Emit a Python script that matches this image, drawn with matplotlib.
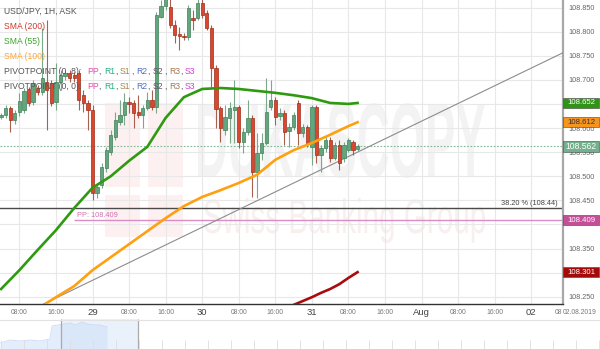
import matplotlib
matplotlib.use("Agg")
import numpy as np
import matplotlib.pyplot as plt
from matplotlib.patches import Rectangle, PathPatch
from matplotlib.textpath import TextPath
from matplotlib.font_manager import FontProperties
from matplotlib.transforms import Affine2D, blended_transform_factory

plt.rcParams['font.family'] = ['Liberation Sans', 'DejaVu Sans']

# hourly candles, hour 0 = 29 Jul 00:00
hours = list(range(-20, 59))
opens = [108.623, 108.627, 108.642, 108.617, 108.633, 108.637, 108.681, 108.654, 108.683, 108.675,
         108.696, 108.693, 108.654, 108.696, 108.708, 108.714, 108.710, 108.714, 108.668, 108.652,
         108.637, 108.465, 108.482, 108.517, 108.550, 108.581, 108.613, 108.627, 108.654, 108.652,
         108.633, 108.627, 108.642, 108.658, 108.644, 108.830, 108.853, 108.851, 108.814, 108.795,
         108.791, 108.789, 108.828, 108.828, 108.859, 108.839, 108.808, 108.725, 108.642, 108.596,
         108.621, 108.637, 108.644, 108.571, 108.592, 108.621, 108.509, 108.548, 108.569, 108.644,
         108.658, 108.625, 108.631, 108.594, 108.602, 108.652, 108.590, 108.602, 108.561, 108.644,
         108.544, 108.559, 108.575, 108.538, 108.565, 108.538, 108.554, 108.571, 108.556]
highs = [108.631, 108.648, 108.646, 108.637, 108.673, 108.683, 108.685, 108.700, 108.689, 108.808,
         108.824, 108.700, 108.735, 108.720, 108.720, 108.720, 108.716, 108.720, 108.679, 108.658,
         108.648, 108.484, 108.527, 108.561, 108.596, 108.633, 108.658, 108.673, 108.664, 108.658,
         108.668, 108.648, 108.675, 108.679, 108.841, 108.866, 108.897, 108.870, 108.824, 108.810,
         108.797, 108.855, 108.845, 108.876, 108.876, 108.845, 108.814, 108.731, 108.646, 108.648,
         108.654, 108.700, 108.648, 108.600, 108.658, 108.627, 108.590, 108.590, 108.704, 108.700,
         108.664, 108.642, 108.637, 108.610, 108.633, 108.658, 108.608, 108.606, 108.648, 108.648,
         108.565, 108.581, 108.581, 108.571, 108.575, 108.571, 108.579, 108.575, 108.567]
lows = [108.619, 108.621, 108.592, 108.608, 108.625, 108.631, 108.646, 108.648, 108.668, 108.668,
        108.596, 108.646, 108.637, 108.679, 108.700, 108.696, 108.696, 108.637, 108.633, 108.596,
        108.451, 108.455, 108.476, 108.509, 108.544, 108.575, 108.606, 108.606, 108.631, 108.600,
        108.621, 108.600, 108.637, 108.637, 108.631, 108.828, 108.845, 108.808, 108.776, 108.762,
        108.783, 108.783, 108.803, 108.824, 108.828, 108.803, 108.685, 108.600, 108.571, 108.586,
        108.569, 108.569, 108.559, 108.548, 108.586, 108.457, 108.455, 108.534, 108.565, 108.637,
        108.606, 108.617, 108.565, 108.561, 108.596, 108.565, 108.581, 108.561, 108.523, 108.527,
        108.509, 108.550, 108.529, 108.534, 108.513, 108.529, 108.550, 108.544, 108.552]
closes = [108.627, 108.642, 108.617, 108.631, 108.656, 108.677, 108.652, 108.693, 108.675, 108.704,
          108.679, 108.652, 108.696, 108.710, 108.714, 108.704, 108.704, 108.658, 108.652, 108.637,
          108.465, 108.478, 108.519, 108.554, 108.586, 108.617, 108.627, 108.654, 108.650, 108.631,
          108.627, 108.642, 108.658, 108.644, 108.835, 108.853, 108.876, 108.814, 108.793, 108.791,
          108.789, 108.849, 108.824, 108.859, 108.835, 108.808, 108.725, 108.639, 108.600, 108.623,
          108.642, 108.644, 108.571, 108.592, 108.621, 108.509, 108.548, 108.569, 108.633, 108.658,
          108.623, 108.631, 108.592, 108.602, 108.627, 108.590, 108.602, 108.569, 108.644, 108.544,
          108.559, 108.575, 108.538, 108.565, 108.527, 108.565, 108.575, 108.554, 108.562]

# moving averages
sma55_h = [-20, -16, -12, -8, -4, 0, 4, 8, 12, 16, 20, 24, 28, 32, 36, 40, 44, 48, 52, 56, 58]
sma55 = [108.266, 108.305, 108.347, 108.388, 108.434, 108.476, 108.500, 108.532, 108.561, 108.621,
         108.664, 108.681, 108.683, 108.681, 108.677, 108.673, 108.668, 108.662, 108.652, 108.650, 108.652]
sma100_h = [-10, -8, -4, 0, 4, 8, 12, 16, 20, 24, 28, 32, 36, 40, 44, 48, 52, 56, 58]
sma100 = [108.237, 108.249, 108.272, 108.305, 108.332, 108.359, 108.386, 108.413, 108.438, 108.457,
          108.471, 108.486, 108.503, 108.534, 108.554, 108.569, 108.586, 108.604, 108.612]
sma200_h = [44, 46, 48, 50, 52, 54, 56, 58]
sma200 = [108.233, 108.241, 108.249, 108.258, 108.266, 108.276, 108.289, 108.301]

trend_h = [-12, 104]
trend_p = [108.229, 108.761]

fib_level = 108.435
pp_level = 108.409
last_price = 108.562

y_levels = [108.25, 108.30, 108.35, 108.40, 108.45, 108.50, 108.55, 108.60, 108.65, 108.70, 108.75, 108.80, 108.85]
hidden_levels = [108.30, 108.40, 108.65]   # covered by the price tags
x_ticks = [-16, -8, 0, 8, 16, 24, 32, 40, 48, 56, 64, 72, 80, 88, 96]
x_labels = ['08:00', '16:00', '29', '08:00', '16:00', '30', '08:00', '16:00', '31',
            '08:00', '16:00', 'Aug', '08:00', '16:00', '02']

# navigator overview
nav_pos = [0, 10, 20, 30, 40, 50, 52, 58, 64, 70, 76, 82, 88, 94, 100, 107]
nav_vals = [6, 9, 8, 9, 8, 10, 23, 24, 25, 26, 24, 27, 25, 24, 24, 22]

W, H = 600, 349
fig = plt.figure(figsize=(6, 3.49), dpi=100)
ax = fig.add_axes([0, 1 - 304 / H, 563 / W, 304 / H])
ax.set_xlim(-20.24, 102.95)
ax.set_ylim(108.2349, 108.8656)
ax.patch.set_facecolor('white')

# watermark
def text_box(s, x0, y0, x1, y1, color, weight):
    tp = TextPath((0, 0), s, size=1, prop=FontProperties(family='Liberation Sans', weight=weight))
    bb = tp.get_extents()
    tr = (Affine2D().translate(-bb.x0, -bb.y0)
          .scale((x1 - x0) / bb.width, (y1 - y0) / bb.height)
          .translate(x0, H - y1).scale(1 / W, 1 / H)) + fig.transFigure
    ax.add_patch(PathPatch(tp, transform=tr, fc=color, ec='none', zorder=0.2))

text_box("DUKASCOPY", 198, 103, 485, 178, '#f3f3f3', 'bold')
text_box("Swiss Banking Group", 204, 198, 485, 243, '#f8efef', 'normal')
pix = Affine2D().scale(1 / W, 1 / H) + fig.transFigure
for (rx0, ry0, rx1, ry1) in [(105, 103, 140, 187), (148, 103, 183, 187),
                             (105, 195, 140, 237), (148, 195, 183, 237)]:
    ax.add_patch(Rectangle((rx0, H - ry1), rx1 - rx0, ry1 - ry0, transform=pix,
                           fc='#fdf0f0', ec='none', zorder=0.2))

ax.set_axisbelow(True)
ax.grid(True, color='#e8e8e8', lw=0.8)

# reference lines
ax.axhline(fib_level, color='#4a4a4a', lw=1.0, zorder=2)
bt = blended_transform_factory(ax.transAxes, ax.transData)
ax.text(558 / 563, fib_level + 0.0015, '38.20 % (108.44)', transform=bt, ha='right', va='bottom',
        fontsize=5.3, color='#444')
ax.hlines(pp_level, -4, 110, color='#da8cc4', lw=1.0, zorder=2)
ax.text(-3.3, pp_level + 0.0015, 'PP: 108.409', ha='left', va='bottom', fontsize=5.3, color='#d070b0')
ax.axhline(last_price, color='#7fb893', lw=0.8, ls=(0, (1.5, 1.5)), zorder=2)
ax.plot(trend_h, trend_p, color='#8c8c8c', lw=0.8, zorder=3)

# candles
o = np.array(opens); c = np.array(closes); hi = np.array(highs); lo = np.array(lows)
up = c >= o
wick_col = np.where(up, '#7ba88b', '#a8604f')
ax.vlines(hours, lo, hi, colors=wick_col, lw=0.8, zorder=4)
body_lo = np.minimum(o, c)
body_h = np.maximum(np.abs(c - o), 0.0012)
ax.bar(hours, body_h, bottom=body_lo, width=0.72,
       color=np.where(up, '#63a67e', '#d9472e'), edgecolor=np.where(up, '#3f7f58', '#9e2d1c'),
       linewidth=0.5, zorder=5)

ax.plot(sma55_h, sma55, color='#2e9a10', lw=1.9, zorder=6)
ax.plot(sma100_h, sma100, color='#ffa010', lw=1.9, zorder=6)
ax.plot(sma200_h, sma200, color='#a80c0c', lw=1.9, zorder=6)

# axes styling
for s in ['top', 'left']:
    ax.spines[s].set_visible(False)
ax.spines['bottom'].set_color('#333')
ax.spines['bottom'].set_linewidth(1.0)
ax.spines['right'].set_color('#a8a8a8')
ax.spines['right'].set_linewidth(1.6)
ax.yaxis.tick_right()
ax.set_yticks(y_levels)
ax.set_yticklabels(['' if any(abs(v - hv) < 1e-6 for hv in hidden_levels) else '%.3f' % v
                    for v in y_levels])
ax.tick_params(axis='y', length=0, pad=4, labelsize=5.2, labelcolor='#666')
ax.set_xticks(x_ticks)
ax.set_xticklabels(x_labels)
ax.tick_params(axis='x', length=0, pad=5.8)
for lbl in ax.get_xticklabels():
    lbl.set_va('center')
    if ':' in lbl.get_text():
        lbl.set_fontsize(4.9)
        lbl.set_color('#777')
    else:
        lbl.set_fontsize(6.8)
        lbl.set_color('#444')
fig.text(555 / W, 1 - 312 / H, '08', fontsize=4.9, color='#777', va='center')
fig.text(563 / W, 1 - 312 / H, '02.08.2019', fontsize=4.9, color='#777', va='center')

# price tags
def tag(price, label, fc, tc, h=10, size=5.6):
    dh = h * (108.8656 - 108.2349) / 304
    ax.add_patch(Rectangle((1.0, price - dh / 2), 36 / 563, dh, transform=bt, fc=fc, ec='#444',
                           lw=0.4, clip_on=False, zorder=10))
    ax.text(1.0 + 18 / 563, price, label, transform=bt, ha='center', va='center', fontsize=size,
            color=tc, clip_on=False, zorder=11)

tag(108.652, '108.652', '#2f9416', 'white')
tag(108.612, '108.612', '#f7941d', '#333')
tag(last_price, '108.562', '#74b08e', 'white', h=11, size=6.2)
tag(pp_level, '108.409', '#c44f98', 'white')
tag(108.301, '108.301', '#a50a0a', 'white')

# legend texts
fs = 6.2
def ftext(x, y, s, col):
    fig.text(x / W, 1 - y / H, s, fontsize=fs, color=col, va='center', ha='left')

ftext(4, 11.7, 'USD/JPY, 1H, ASK', '#555')
ftext(4, 26.7, 'SMA (200)', '#cc3a2a')
ftext(4, 41.7, 'SMA (55)', '#3aa52a')
ftext(4, 56.3, 'SMA (100)', '#ffa533')
piv_tokens = [('PP', '#e050b0', 87), ('R1', '#20b080', 104), ('S1', '#a08850', 120),
              ('R2', '#5070c0', 136), ('S2', '#6a5070', 153), ('R3', '#a07850', 169),
              ('S3', '#d040d0', 185)]
for yy, head in [(71.2, 'PIVOTPOINT (0, 8):'), (86.2, 'PIVOTPOINT (0, 0):')]:
    ftext(4, yy, head, '#555')
    for k, (tok, col, xx) in enumerate(piv_tokens):
        ftext(xx, yy, tok, col)
        if k < len(piv_tokens) - 1:
            ftext(xx + 11.5, yy, ',', '#555')

# navigator
nav = fig.add_axes([0, 0, 1, 30 / H])
nav.set_xlim(0, 600)
nav.set_ylim(0, 30)
nav.axis('off')
nav.fill_between(nav_pos, 0, nav_vals, color='#e4edfb', lw=0)
nav.plot(nav_pos, nav_vals, color='#c9daf5', lw=0.6)
nav.axvspan(61, 138, color='#cfe0f7', alpha=0.45, lw=0)
nav.vlines([61, 138], 0, 30, colors='#aaaaaa', lw=0.9)
nav.axhline(29.5, color='#e2e2e2', lw=0.8)
tick_x = np.arange(1, 600, 23)
nav.vlines(tick_x, 0, 9, colors='#dddddd', lw=0.6)

fig.savefig('out.png', dpi=100)
